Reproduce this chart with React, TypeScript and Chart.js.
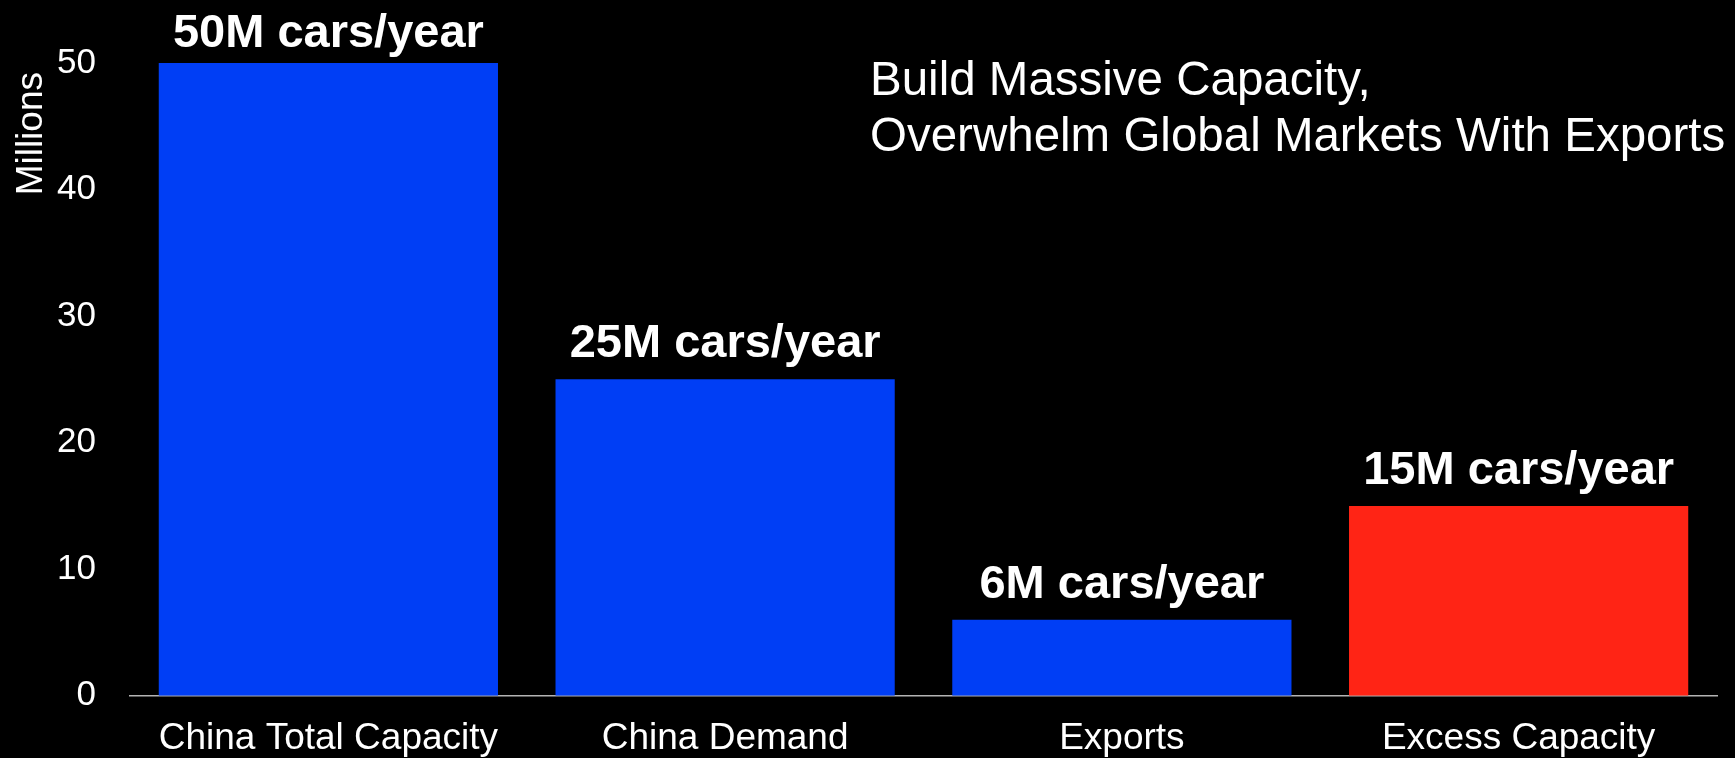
import { useEffect, useRef } from "react";
import { Chart, registerables } from "chart.js";

Chart.register(...registerables);

const categories = ["China Total Capacity", "China Demand", "Exports", "Excess Capacity"];
const carsMillions = [50, 25, 6, 15];
const barColors = ["#003ef5", "#003ef5", "#003ef5", "#ff2415"];
const yTicks = [0, 10, 20, 30, 40, 50];
const yTitle = "Millions";
const headingLines = ["Build Massive Capacity,", "Overwhelm Global Markets With Exports"];

const FONT = '"Liberation Sans", Arial, Helvetica, sans-serif';

// value labels above the bars + the rotated "Millions" axis title
const overlayText = {
  id: "overlayText",
  afterDatasetsDraw(chart: Chart) {
    const ctx = chart.ctx;
    const meta = chart.getDatasetMeta(0);
    ctx.save();
    ctx.fillStyle = "#ffffff";
    ctx.font = `bold 47px ${FONT}`;
    ctx.textAlign = "center";
    ctx.textBaseline = "alphabetic";
    meta.data.forEach((bar: any, i: number) => {
      const y = Math.max(bar.y - 22, 47);
      ctx.fillText(`${carsMillions[i]}M cars/year`, bar.x, y);
    });

    // axis title, reads bottom to top, ends a little below the top tick
    ctx.font = `37px ${FONT}`;
    ctx.textAlign = "right";
    ctx.translate(41.7, chart.chartArea.top + 9);
    ctx.rotate(-Math.PI / 2);
    ctx.fillText(yTitle, 0, 0);
    ctx.restore();
  },
};

function CapacityChart() {
  const canvasRef = useRef<HTMLCanvasElement | null>(null);
  const chartRef = useRef<Chart | null>(null);

  useEffect(() => {
    if (!canvasRef.current) return;
    if (chartRef.current) chartRef.current.destroy();

    chartRef.current = new Chart(canvasRef.current, {
      type: "bar",
      data: {
        labels: categories,
        datasets: [
          {
            label: "Cars per year (millions)",
            data: carsMillions,
            backgroundColor: barColors,
            borderWidth: 0,
            barPercentage: 0.855,
            categoryPercentage: 1,
          },
        ],
      },
      options: {
        animation: false,
        responsive: false,
        maintainAspectRatio: false,
        layout: { padding: { top: 63, right: 18, bottom: 0, left: 0 } },
        plugins: {
          legend: { display: false },
          tooltip: { enabled: false },
        },
        scales: {
          x: {
            grid: { display: false, drawTicks: false },
            border: { display: true, color: "#b4b4b4", width: 1.5 },
            ticks: {
              color: "#ffffff",
              padding: 21,
              font: { family: FONT, size: 37 },
            },
            afterFit: (scale: any) => {
              scale.height = 62.3;
            },
          },
          y: {
            min: 0,
            max: 50,
            afterBuildTicks: (scale: any) => {
              scale.ticks = yTicks.map((v) => ({ value: v }));
            },
            grid: { display: false, drawTicks: false },
            border: { display: false },
            ticks: {
              color: "#ffffff",
              padding: 34,
              font: { family: FONT, size: 35 },
            },
            afterFit: (scale: any) => {
              scale.width = 130;
            },
          },
        },
      },
      plugins: [overlayText],
    });

    return () => {
      if (chartRef.current) {
        chartRef.current.destroy();
        chartRef.current = null;
      }
    };
  }, []);

  return <canvas ref={canvasRef} width={1735} height={758} style={{ display: "block" }} />;
}

export default function App() {
  return (
    <div
      style={{
        position: "fixed",
        left: 0,
        top: 0,
        width: 1735,
        height: 758,
        background: "#000000",
        overflow: "hidden",
      }}
    >
      <CapacityChart />
      <div
        style={{
          position: "absolute",
          left: 870,
          top: 50.5,
          color: "#ffffff",
          fontFamily: FONT,
          fontSize: 47.5,
          lineHeight: "56px",
          whiteSpace: "nowrap",
        }}
      >
        {headingLines.map((line) => (
          <div key={line}>{line}</div>
        ))}
      </div>
    </div>
  );
}
